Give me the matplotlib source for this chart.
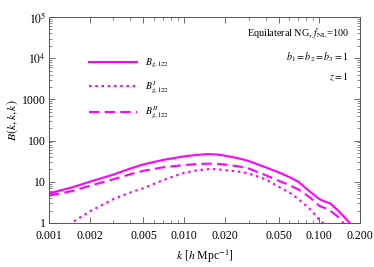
import matplotlib
matplotlib.use("Agg")
import matplotlib.pyplot as plt
from matplotlib.ticker import LogLocator, NullFormatter

plt.rcParams['font.family'] = ['Liberation Serif', 'DejaVu Serif']
plt.rcParams['mathtext.fontset'] = 'stix'

magenta = '#FF00FF'

# values
k = [0.001, 0.0015, 0.002, 0.003, 0.004, 0.005, 0.007, 0.01, 0.0125, 0.015,
     0.0175, 0.02, 0.025, 0.03, 0.04, 0.05, 0.06, 0.07, 0.085, 0.1, 0.11,
     0.12, 0.14, 0.17]
b_total = [5.2, 7.4, 10.0, 15.0, 21.0, 26.5, 34.0, 41.5, 45.0, 47.0,
           46.0, 43.0, 37.5, 32.0, 22.5, 17.0, 13.0, 10.0, 5.8, 3.8, 3.3,
           3.0, 1.9, 0.95]
b_dashed = [4.6, 6.0, 8.0, 11.5, 15.3, 18.5, 22.5, 25.5, 27.0, 27.5,
            27.3, 26.3, 23.8, 21.0, 14.5, 10.6, 8.3, 6.5, 4.2, 2.6, 2.3,
            2.0, 1.35, 0.6]
k_dot = [0.0014, 0.0015, 0.002, 0.003, 0.004, 0.005, 0.007, 0.01, 0.0125,
         0.015, 0.0175, 0.02, 0.025, 0.03, 0.04, 0.05, 0.06, 0.07, 0.085,
         0.1, 0.11]
b_dotted = [0.9, 1.05, 1.9, 3.8, 5.5, 7.0, 11.0, 16.5, 19.0, 20.3, 20.2,
            19.2, 17.8, 16.0, 11.5, 7.6, 5.5, 3.8, 2.2, 1.2, 0.9]

xticks = [0.001, 0.002, 0.005, 0.01, 0.02, 0.05, 0.1, 0.2]
xticklabels = ['0.001', '0.002', '0.005', '0.010', '0.020', '0.050', '0.100', '0.200']
yticks = [1, 10, 100, 1000, 1e4, 1e5]
yticklabels = ['1', '10', '100', '1000', r'$10^4$', r'$10^5$']

fig = plt.figure(figsize=(3.74, 2.67), dpi=100)
ax = fig.add_axes([0.131, 0.165, 0.8316, 0.771])

ax.plot(k, b_total, color=magenta, lw=1.5, label=r'$B_{g,122}$')
ax.plot(k_dot, b_dotted, color=magenta, lw=1.5, dashes=(1.2, 1.8), label=r'$B^{I}_{g,122}$')
ax.plot(k, b_dashed, color=magenta, lw=1.5, dashes=(5, 2.5), label=r'$B^{II}_{g,122}$')

ax.set_xscale('log')
ax.set_yscale('log')
ax.set_xlim(0.001, 0.2)
ax.set_ylim(1, 1e5)

ax.set_xticks(xticks)
ax.set_xticklabels(xticklabels)
ax.set_yticks(yticks)
ax.set_yticklabels(yticklabels)
ax.xaxis.set_minor_locator(LogLocator(base=10, subs=[3, 4, 6, 7, 8, 9]))
ax.xaxis.set_minor_formatter(NullFormatter())
ax.yaxis.set_minor_locator(LogLocator(base=10, subs=range(2, 10)))
ax.yaxis.set_minor_formatter(NullFormatter())

ax.tick_params(which='both', direction='in', top=True, right=True, color='#555555')
ax.tick_params(which='major', length=4, width=0.6, labelsize=8.5)
ax.tick_params(axis='x', which='major', pad=5)
ax.tick_params(axis='y', which='major', pad=2)
ax.tick_params(which='minor', length=2, width=0.5)
for s in ax.spines.values():
    s.set_color('#555555')
    s.set_linewidth(0.7)

ax.set_xlabel(r'$k$ [$h$ Mpc$^{-1}$]', fontsize=8.5, labelpad=4)
ax.set_ylabel(r'$B(k,k,k)$', fontsize=8.5, labelpad=2)

ax.legend(loc='upper left', bbox_to_anchor=(0.1, 0.85), frameon=False, fontsize=7,
          handlelength=5.0, handletextpad=0.8, labelspacing=0.95)

ax.text(0.965, 0.922, r'Equilateral NG, $f_{\rm NL}$=100', transform=ax.transAxes,
        ha='right', va='center', fontsize=7.3)
ax.text(0.965, 0.806, r'$b_1 = b_2 = b_3 = 1$', transform=ax.transAxes,
        ha='right', va='center', fontsize=7.3)
ax.text(0.965, 0.709, r'$z = 1$', transform=ax.transAxes,
        ha='right', va='center', fontsize=7.3)

fig.savefig('out.png', dpi=100)
